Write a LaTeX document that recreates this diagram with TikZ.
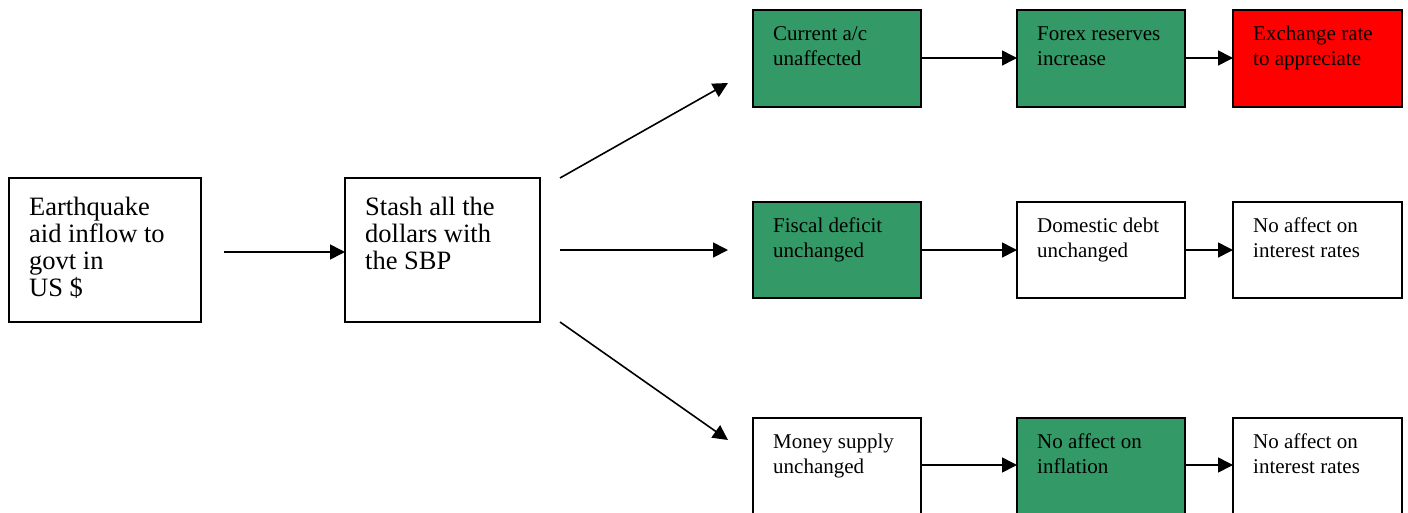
\documentclass[tikz,border=0pt]{standalone}
\usepackage{fontspec}
\setmainfont{Liberation Serif}
\usetikzlibrary{arrows.meta}
\definecolor{boxgreen}{HTML}{339966}
\definecolor{boxred}{HTML}{FF0000}
\tikzset{
  box/.style={draw=black, line width=1.4pt, inner sep=0pt, outer sep=0pt, anchor=north west, fill=white},
  smallbox/.style={box, minimum width=168pt, minimum height=97pt},
  bigbox/.style={box, minimum height=144pt},
  greenfill/.style={fill=boxgreen},
  redfill/.style={fill=boxred},
  smalltxt/.style={inner sep=0pt, anchor=base west, font=\fontsize{21}{25}\selectfont},
  bigtxt/.style={inner sep=0pt, anchor=base west, font=\fontsize{26.5}{27}\selectfont},
  arr/.style={line width=1.6pt, -{Triangle[length=15pt,width=15pt]}}
}
\newcommand{\lines}[1]{\begin{tabular}[t]{@{}l@{}}#1\end{tabular}}
\begin{document}
\begin{tikzpicture}[x=1pt,y=-1pt]
\useasboundingbox (0,0) rectangle (1408,512);
% left boxes
\node[bigbox, minimum width=192pt] (b1) at (9,178) {};
\node[bigbox, minimum width=195pt] (b2) at (345,178) {};
\node[bigtxt] (b1t) at ([xshift=20pt,yshift=-37pt]b1.north west) {\lines{Earthquake\\aid inflow to\\govt in\\US \$}};
\node[bigtxt] (b2t) at ([xshift=20pt,yshift=-37pt]b2.north west) {\lines{Stash all the\\dollars with\\the SBP}};
% top row
\node[smallbox, greenfill] (t1) at (753,10) {};
\node[smallbox, greenfill] (t2) at (1017,10) {};
\node[smallbox, redfill, minimum width=169pt] (t3) at (1233,10) {};
% middle row
\node[smallbox, greenfill, minimum height=96pt] (m1) at (753,202) {};
\node[smallbox, minimum height=96pt] (m2) at (1017,202) {};
\node[smallbox, minimum width=169pt, minimum height=96pt] (m3) at (1233,202) {};
% bottom row
\node[smallbox, minimum height=98pt] (l1) at (753,418) {};
\node[smallbox, greenfill, minimum height=98pt] (l2) at (1017,418) {};
\node[smallbox, minimum width=169pt, minimum height=98pt] (l3) at (1233,418) {};
% texts
\node[smalltxt] (t1t) at ([xshift=20pt,yshift=-30pt]t1.north west) {\lines{Current a/c\\unaffected}};
\node[smalltxt] (t2t) at ([xshift=20pt,yshift=-30pt]t2.north west) {\lines{Forex reserves\\increase}};
\node[smalltxt] (t3t) at ([xshift=20pt,yshift=-30pt]t3.north west) {\lines{Exchange rate\\to appreciate}};
\node[smalltxt] (m1t) at ([xshift=20pt,yshift=-30pt]m1.north west) {\lines{Fiscal deficit\\unchanged}};
\node[smalltxt] (m2t) at ([xshift=20pt,yshift=-30pt]m2.north west) {\lines{Domestic debt\\unchanged}};
\node[smalltxt] (m3t) at ([xshift=20pt,yshift=-30pt]m3.north west) {\lines{No affect on\\interest rates}};
\node[smalltxt] (l1t) at ([xshift=20pt,yshift=-30pt]l1.north west) {\lines{Money supply\\unchanged}};
\node[smalltxt] (l2t) at ([xshift=20pt,yshift=-30pt]l2.north west) {\lines{No affect on\\inflation}};
\node[smalltxt] (l3t) at ([xshift=20pt,yshift=-30pt]l3.north west) {\lines{No affect on\\interest rates}};
% connectors
\draw[arr] ([xshift=23pt,yshift=-2pt]b1.east) -- ([yshift=-2pt]b2.west);
\draw[arr] ([xshift=20pt]b2.north east) -- ([xshift=-25pt,yshift=24pt]t1.south west);
\draw[arr] ([xshift=20pt]b2.east) -- ([xshift=-25pt]m1.west);
\draw[arr] ([xshift=20pt]b2.south east) -- ([xshift=-25pt,yshift=-22pt]l1.north west);
\draw[arr] ([yshift=0.5pt]t1.east) -- ([yshift=0.5pt]t2.west);
\draw[arr] ([yshift=0.5pt]t2.east) -- ([yshift=0.5pt]t3.west);
\draw[arr] (m1.east) -- (m2.west);
\draw[arr] (m2.east) -- (m3.west);
\draw[arr] ([yshift=2pt]l1.east) -- ([yshift=2pt]l2.west);
\draw[arr] ([yshift=2pt]l2.east) -- ([yshift=2pt]l3.west);
\end{tikzpicture}
\end{document}
